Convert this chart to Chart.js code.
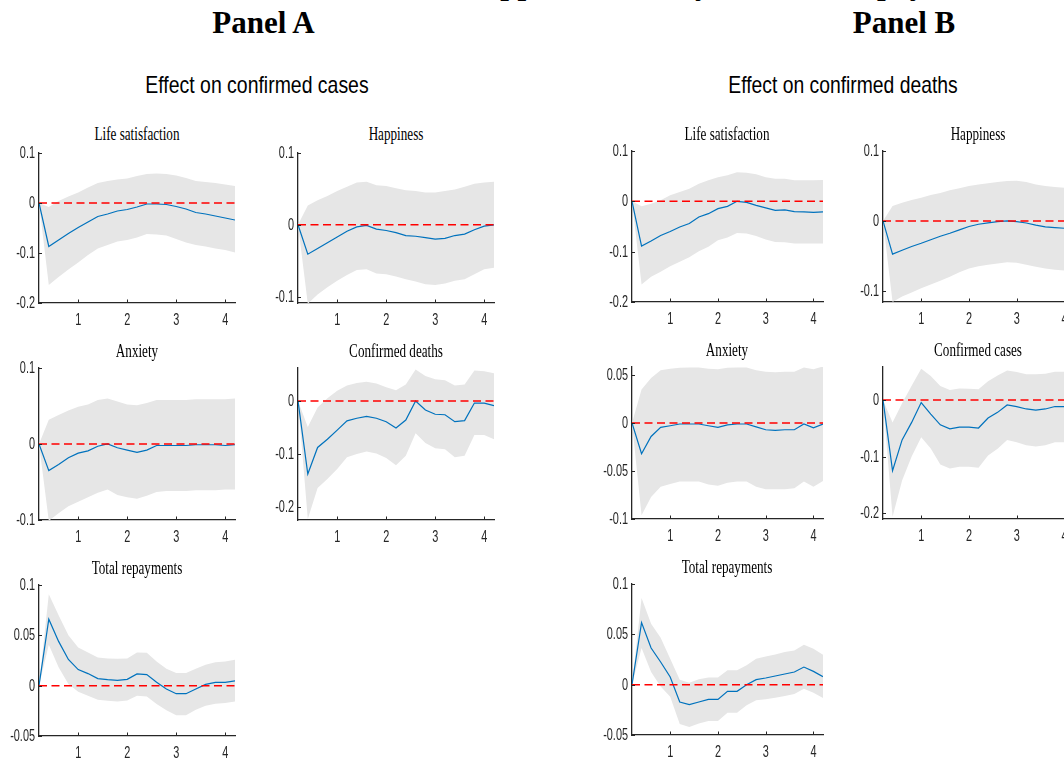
<!DOCTYPE html>
<html><head><meta charset="utf-8">
<script src="https://cdn.jsdelivr.net/npm/chart.js@4.4.1/dist/chart.umd.min.js"></script>
<style>
html,body{margin:0;padding:0;background:#fff;overflow:hidden;width:1064px;height:760px;}
#page{position:relative;width:1064px;height:760px;overflow:hidden;background:#fff;}
.t{position:absolute;white-space:nowrap;color:#000;transform-origin:50% 50%;}
canvas{position:absolute;}
</style></head><body><div id="page"></div>
<script>
// ---------- data ----------
const horizon = [0.2,0.4,0.6,0.8,1.0,1.2,1.4,1.6,1.8,2.0,2.2,2.4,2.6,2.8,3.0,3.2,3.4,3.6,3.8,4.0,4.2];
const xTickValues = [1,2,3,4];
const zeroLineX = [0.2, 4.2];
const zeroLineY = [0, 0];

// Panel A: effect on confirmed cases
const casesLifeSatIrf = [0,-0.087,-0.074,-0.061,-0.049,-0.038,-0.027,-0.022,-0.016,-0.013,-0.008,-0.002,-0.002,-0.003,-0.007,-0.012,-0.019,-0.022,-0.026,-0.030,-0.034];
const casesLifeSatLo  = [0,-0.164,-0.148,-0.133,-0.119,-0.104,-0.091,-0.084,-0.077,-0.074,-0.069,-0.062,-0.063,-0.065,-0.072,-0.079,-0.084,-0.087,-0.091,-0.094,-0.099];
const casesLifeSatHi  = [0,-0.008,0.004,0.013,0.021,0.031,0.040,0.044,0.047,0.049,0.054,0.058,0.059,0.058,0.055,0.050,0.044,0.042,0.040,0.037,0.034];

const casesHappyIrf = [0,-0.041,-0.033,-0.025,-0.017,-0.009,-0.003,-0.001,-0.006,-0.008,-0.011,-0.015,-0.016,-0.018,-0.020,-0.019,-0.015,-0.013,-0.007,-0.002,0];
const casesHappyLo  = [0,-0.110,-0.097,-0.087,-0.078,-0.070,-0.063,-0.062,-0.068,-0.069,-0.072,-0.076,-0.079,-0.083,-0.084,-0.082,-0.078,-0.076,-0.069,-0.062,-0.060];
const casesHappyHi  = [0,0.027,0.034,0.040,0.047,0.053,0.059,0.060,0.055,0.054,0.051,0.048,0.047,0.045,0.045,0.047,0.049,0.053,0.057,0.059,0.060];

const casesAnxIrf = [0,-0.035,-0.027,-0.018,-0.012,-0.009,-0.003,0,-0.005,-0.008,-0.011,-0.008,-0.002,-0.002,-0.002,-0.002,-0.001,-0.001,-0.001,-0.002,-0.001];
const casesAnxLo  = [0,-0.101,-0.091,-0.082,-0.076,-0.070,-0.064,-0.060,-0.067,-0.070,-0.072,-0.068,-0.063,-0.062,-0.062,-0.062,-0.061,-0.061,-0.061,-0.060,-0.060];
const casesAnxHi  = [0,0.032,0.038,0.044,0.049,0.052,0.058,0.060,0.056,0.052,0.051,0.054,0.058,0.058,0.058,0.058,0.059,0.059,0.059,0.059,0.060];

const casesDeathsIrf = [0,-0.1375,-0.0875,-0.072,-0.055,-0.0375,-0.0325,-0.029,-0.0325,-0.039,-0.051,-0.036,0,-0.017,-0.025,-0.026,-0.039,-0.037,-0.004,-0.004,-0.009];
const casesDeathsLo  = [0,-0.222,-0.164,-0.147,-0.128,-0.106,-0.100,-0.095,-0.099,-0.1075,-0.121,-0.103,-0.061,-0.079,-0.089,-0.091,-0.106,-0.103,-0.064,-0.064,-0.072];
const casesDeathsHi  = [0,-0.049,-0.0125,0.005,0.019,0.029,0.034,0.036,0.033,0.026,0.020,0.031,0.059,0.047,0.041,0.039,0.029,0.031,0.0575,0.056,0.052];

const casesRepayIrf = [0,0.066,0.044,0.026,0.016,0.012,0.007,0.006,0.0053,0.0063,0.0117,0.011,0.0033,-0.0033,-0.008,-0.008,-0.0033,0.0013,0.0033,0.0033,0.0047];
const casesRepayLo  = [0,0.0407,0.0183,0.0017,-0.006,-0.010,-0.014,-0.015,-0.0157,-0.0147,-0.010,-0.0107,-0.0183,-0.0243,-0.0293,-0.0293,-0.024,-0.020,-0.018,-0.0173,-0.0157];
const casesRepayHi  = [0,0.0907,0.070,0.050,0.038,0.033,0.028,0.027,0.0267,0.027,0.033,0.0327,0.024,0.0167,0.0127,0.0127,0.0167,0.0207,0.0233,0.024,0.0257];

// Panel B: effect on confirmed deaths
const deathsLifeSatIrf = [0,-0.089,-0.079,-0.068,-0.060,-0.051,-0.044,-0.031,-0.0245,-0.0146,-0.010,0,-0.002,-0.008,-0.013,-0.018,-0.017,-0.0205,-0.021,-0.022,-0.021];
const deathsLifeSatLo  = [0,-0.165,-0.150,-0.140,-0.129,-0.120,-0.111,-0.099,-0.090,-0.0775,-0.072,-0.063,-0.064,-0.069,-0.076,-0.081,-0.0815,-0.084,-0.084,-0.084,-0.084];
const deathsLifeSatHi  = [0,-0.010,-0.005,0.002,0.012,0.0185,0.025,0.035,0.042,0.048,0.052,0.058,0.057,0.054,0.048,0.045,0.045,0.042,0.042,0.042,0.0424];

const deathsHappyIrf = [0,-0.0475,-0.042,-0.0366,-0.032,-0.027,-0.022,-0.0176,-0.0128,-0.008,-0.0048,-0.0029,-0.001,0,-0.001,-0.003,-0.006,-0.0085,-0.0095,-0.0105,-0.012];
const deathsHappyLo  = [0,-0.116,-0.108,-0.1024,-0.0962,-0.091,-0.0855,-0.080,-0.0736,-0.068,-0.065,-0.0627,-0.061,-0.059,-0.060,-0.0627,-0.0655,-0.068,-0.070,-0.071,-0.072];
const deathsHappyHi  = [0,0.0214,0.026,0.030,0.0333,0.037,0.040,0.0437,0.0466,0.050,0.052,0.0537,0.0556,0.057,0.0575,0.0556,0.052,0.050,0.0485,0.0475,0.047];

const deathsAnxIrf = [0,-0.032,-0.014,-0.0045,-0.0028,-0.001,-0.001,-0.001,-0.0028,-0.0045,-0.002,-0.001,-0.001,-0.004,-0.007,-0.0077,-0.007,-0.007,-0.001,-0.005,-0.001];
const deathsAnxLo  = [0,-0.096,-0.077,-0.0664,-0.0636,-0.061,-0.061,-0.061,-0.064,-0.0654,-0.0622,-0.061,-0.061,-0.0664,-0.069,-0.069,-0.069,-0.068,-0.061,-0.0664,-0.0605];
const deathsAnxHi  = [0,0.035,0.047,0.055,0.0567,0.0577,0.058,0.058,0.0567,0.056,0.0577,0.058,0.058,0.055,0.0535,0.053,0.0535,0.0535,0.058,0.056,0.059];

const deathsCasesIrf = [0,-0.125,-0.0705,-0.0397,-0.0047,-0.025,-0.044,-0.051,-0.048,-0.048,-0.0496,-0.032,-0.022,-0.009,-0.012,-0.016,-0.018,-0.016,-0.0117,-0.012,-0.010];
const deathsCasesLo  = [0,-0.206,-0.142,-0.100,-0.066,-0.0855,-0.1137,-0.121,-0.118,-0.118,-0.1195,-0.098,-0.0863,-0.0705,-0.0746,-0.080,-0.082,-0.080,-0.0746,-0.0746,-0.072];
const deathsCasesHi  = [0,-0.040,-0.006,0.025,0.055,0.042,0.0245,0.0175,0.020,0.0198,0.0187,0.033,0.043,0.052,0.049,0.045,0.045,0.046,0.0496,0.0496,0.050];

const deathsRepayIrf = [0,0.0616,0.0364,0.0225,0.0076,-0.0172,-0.0199,-0.0172,-0.0146,-0.0146,-0.0066,-0.0066,0,0.005,0.0066,0.0086,0.0106,0.0126,0.0175,0.0132,0.008];
const deathsRepayLo  = [0,0.0364,0.0126,-0.0017,-0.012,-0.039,-0.042,-0.0387,-0.036,-0.036,-0.0278,-0.0278,-0.0205,-0.0156,-0.0146,-0.0129,-0.0113,-0.0093,-0.004,-0.008,-0.0132];
const deathsRepayHi  = [0,0.086,0.0606,0.0467,0.0258,0.005,0.002,0.0053,0.007,0.007,0.0142,0.0142,0.0192,0.0258,0.028,0.030,0.0325,0.034,0.0397,0.0358,0.0298];

// tick label values
const yTicksTenths = [-0.2,-0.1,0,0.1];
const yTicksHappy = [-0.1,0,0.1];
const yTicksAnx = [-0.1,0,0.1];
const yTicksAnxB = [-0.1,-0.05,0,0.05];
const yTicksCases = [-0.2,-0.1,0];
const yTicksRepay = [-0.05,0,0.05,0.1];

// ---------- layout helpers ----------
const page = document.getElementById('page');
const AXIS = '#262626';
const TICK_FONT = '16.5px "Liberation Sans", Arial, sans-serif';
const TICK_SX = 0.66;

function addText(str, cx, baseline, family, size, weight, sx, asc) {
  const d = document.createElement('div');
  d.className = 't';
  d.textContent = str;
  d.style.fontFamily = family;
  d.style.fontSize = size + 'px';
  d.style.fontWeight = weight;
  d.style.lineHeight = size + 'px';
  d.style.left = cx + 'px';
  d.style.top = (baseline - asc * size) + 'px';
  d.style.transform = 'translateX(-50%) scaleX(' + sx + ')';
  page.appendChild(d);
}
const SERIF = '"Liberation Serif", "Times New Roman", serif';
const SANS = '"Liberation Sans", Arial, sans-serif';

function fmt(v) { return v === 0 ? '0' : String(v); }

const axisPlugin = {
  id: 'matlabAxes',
  afterDraw(chart) {
    const ctx = chart.ctx, xs = chart.scales.x, ys = chart.scales.y, a = chart.chartArea;
    ctx.save();
    ctx.strokeStyle = AXIS;
    ctx.lineWidth = 1;
    xs.ticks.forEach(t => {
      const px = Math.round(xs.getPixelForValue(t.value)) + 0.5;
      ctx.beginPath(); ctx.moveTo(px, a.bottom); ctx.lineTo(px, a.bottom - 3.5); ctx.stroke();
    });
    ys.ticks.forEach(t => {
      const py = Math.round(ys.getPixelForValue(t.value)) + 0.5;
      ctx.beginPath(); ctx.moveTo(a.left, py); ctx.lineTo(a.left + 3, py); ctx.stroke();
    });
    ctx.fillStyle = AXIS;
    ctx.font = TICK_FONT;
    ctx.textAlign = 'center';
    ctx.textBaseline = 'alphabetic';
    xs.ticks.forEach(t => {
      const px = xs.getPixelForValue(t.value);
      ctx.save(); ctx.translate(px, a.bottom + 21.5); ctx.scale(TICK_SX, 1);
      ctx.fillText(fmt(t.value), 0, 0); ctx.restore();
    });
    ctx.textAlign = 'right';
    ctx.textBaseline = 'middle';
    ys.ticks.forEach(t => {
      const py = ys.getPixelForValue(t.value);
      ctx.save(); ctx.translate(a.left - 4, py + 0.5); ctx.scale(TICK_SX, 1);
      ctx.fillText(fmt(t.value), 0, 0); ctx.restore();
    });
    ctx.restore();
  }
};

function pts(xs, ys) { return ys.map((v, i) => ({x: xs[i], y: v})); }

function makePlot(p) {
  const PADL = 45, PADT = 8, PADR = 8, PADB = 30;
  const x0 = Math.round(p.x0), x1 = Math.round(p.x1), y0 = Math.round(p.top), y1 = Math.round(p.bottom);
  const c = document.createElement('canvas');
  const w = x1 - x0 + PADL + PADR, h = y1 - y0 + PADT + PADB;
  c.width = w; c.height = h;
  c.style.width = w + 'px'; c.style.height = h + 'px';
  c.style.left = (x0 - PADL) + 'px';
  c.style.top = (y0 - PADT) + 'px';
  page.appendChild(c);
  addText(p.title, (p.x0 + p.x1) / 2, p.top - p.titleGap, SERIF, 18.5, 'normal', 0.71, 0.8375);
  new Chart(c, {
    type: 'line',
    data: { datasets: [
      { data: pts(horizon, p.hi), borderWidth: 0, pointRadius: 0, fill: '+1', backgroundColor: '#E6E6E6', borderColor: 'rgba(0,0,0,0)', order: 3 },
      { data: pts(horizon, p.lo), borderWidth: 0, pointRadius: 0, fill: false, borderColor: 'rgba(0,0,0,0)', order: 4 },
      { data: pts(horizon, p.irf), borderWidth: 1.2, pointRadius: 0, fill: false, borderColor: '#0072BD', order: 2 },
      { data: pts(zeroLineX, zeroLineY), borderWidth: 1.5, pointRadius: 0, fill: false, borderColor: '#FF0000', borderDash: [8, 4.5], order: 1 }
    ]},
    options: {
      responsive: false, animation: false, devicePixelRatio: 1,
      layout: { padding: { top: PADT, right: PADR, left: 0, bottom: 0 } },
      plugins: { legend: { display: false }, tooltip: { enabled: false }, title: { display: false } },
      elements: { line: { tension: 0 } },
      scales: {
        x: { type: 'linear', min: 0.2, max: 4.2,
             grid: { display: false }, border: { display: true, color: AXIS, width: 1.3 },
             ticks: { display: false },
             afterBuildTicks: s => { s.ticks = xTickValues.map(v => ({ value: v })); },
             afterFit: s => { s.height = PADB; } },
        y: { type: 'linear', min: p.ymin, max: p.ymax,
             grid: { display: false }, border: { display: true, color: AXIS, width: 1.3 },
             ticks: { display: false },
             afterBuildTicks: s => { s.ticks = p.yticks.map(v => ({ value: v })); },
             afterFit: s => { s.width = PADL; } }
      }
    },
    plugins: [axisPlugin]
  });
}

// ---------- headings ----------
(function () {
  const cap = 'Effect of COVID-19 on life satisfaction, happiness, anxiety, and total repayments';
  const prefix = 'Effect of COVID-19 on life satisfaction';
  const m = document.createElement('canvas').getContext('2d');
  m.font = 'bold 31px ' + SERIF;
  const pw = m.measureText(prefix).width;
  const d = document.createElement('div');
  d.className = 't';
  d.textContent = cap;
  d.style.fontFamily = SERIF; d.style.fontWeight = 'bold'; d.style.fontSize = '31px'; d.style.lineHeight = '31px';
  d.style.left = (452 - pw) + 'px';
  d.style.top = (-6.5 - 0.8375 * 31) + 'px';
  page.appendChild(d);
})();
addText('Panel A', 263.5, 33.3, SERIF, 31, 'bold', 1, 0.8375);
addText('Panel B', 904, 33.3, SERIF, 31, 'bold', 1, 0.8375);
addText('Effect on confirmed cases', 256.5, 93.3, SANS, 24, 'normal', 0.81, 0.8465);
addText('Effect on confirmed deaths', 843, 93.3, SANS, 24, 'normal', 0.805, 0.8465);

// ---------- panels ----------
const A1 = [39.1, 235.1], A2 = [298.1, 494.1], B1 = [631.8, 823], B2 = [882.6, 1074];

makePlot({ title: 'Life satisfaction', x0: A1[0], x1: A1[1], top: 152.5, bottom: 302.5, titleGap: 11.8, ymin: -0.2, ymax: 0.1, yticks: yTicksTenths, irf: casesLifeSatIrf, lo: casesLifeSatLo, hi: casesLifeSatHi });
makePlot({ title: 'Happiness', x0: A2[0], x1: A2[1], top: 152.5, bottom: 302.5, titleGap: 11.8, ymin: -0.109, ymax: 0.1, yticks: yTicksHappy, irf: casesHappyIrf, lo: casesHappyLo, hi: casesHappyHi });
makePlot({ title: 'Anxiety', x0: A1[0], x1: A1[1], top: 367.5, bottom: 519.5, titleGap: 10.5, ymin: -0.1, ymax: 0.1, yticks: yTicksAnx, irf: casesAnxIrf, lo: casesAnxLo, hi: casesAnxHi });
makePlot({ title: 'Confirmed deaths', x0: A2[0], x1: A2[1], top: 367.5, bottom: 519.5, titleGap: 10.5, ymin: -0.224, ymax: 0.062, yticks: yTicksCases, irf: casesDeathsIrf, lo: casesDeathsLo, hi: casesDeathsHi });
makePlot({ title: 'Total repayments', x0: A1[0], x1: A1[1], top: 585, bottom: 736, titleGap: 10.7, ymin: -0.05, ymax: 0.1, yticks: yTicksRepay, irf: casesRepayIrf, lo: casesRepayLo, hi: casesRepayHi });

makePlot({ title: 'Life satisfaction', x0: B1[0], x1: B1[1], top: 151, bottom: 302, titleGap: 11, ymin: -0.2, ymax: 0.1, yticks: yTicksTenths, irf: deathsLifeSatIrf, lo: deathsLifeSatLo, hi: deathsLifeSatHi });
makePlot({ title: 'Happiness', x0: B2[0], x1: B2[1], top: 151, bottom: 302, titleGap: 11, ymin: -0.116, ymax: 0.1, yticks: yTicksHappy, irf: deathsHappyIrf, lo: deathsHappyLo, hi: deathsHappyHi });
makePlot({ title: 'Anxiety', x0: B1[0], x1: B1[1], top: 367, bottom: 518.5, titleGap: 10.5, ymin: -0.1, ymax: 0.0584, yticks: yTicksAnxB, irf: deathsAnxIrf, lo: deathsAnxLo, hi: deathsAnxHi });
makePlot({ title: 'Confirmed cases', x0: B2[0], x1: B2[1], top: 366.5, bottom: 519, titleGap: 10, ymin: -0.21, ymax: 0.058, yticks: yTicksCases, irf: deathsCasesIrf, lo: deathsCasesLo, hi: deathsCasesHi });
makePlot({ title: 'Total repayments', x0: B1[0], x1: B1[1], top: 584.3, bottom: 735, titleGap: 10.5, ymin: -0.05, ymax: 0.1, yticks: yTicksRepay, irf: deathsRepayIrf, lo: deathsRepayLo, hi: deathsRepayHi });
</script>
</body></html>
